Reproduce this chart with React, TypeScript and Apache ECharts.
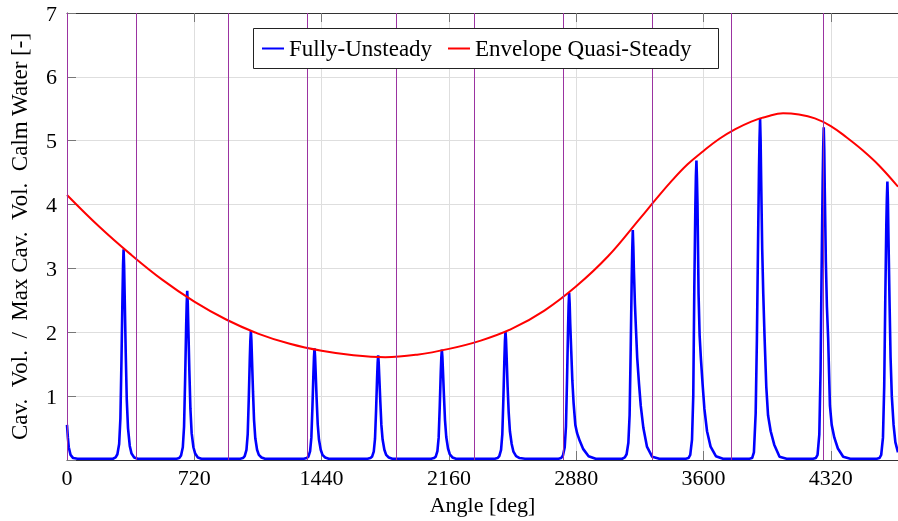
import React, { useEffect, useRef } from "react";
import * as echarts from "echarts";

// ---- Data ----
const xTicks = [0, 720, 1440, 2160, 2880, 3600, 4320];
const xMax = 4700;
const yMax = 7;

// Envelope Quasi-Steady (angle in deg, value)
const envelopeAngles = [0, 180, 360, 540, 720, 900, 1080, 1260, 1440, 1620, 1800, 1980, 2160, 2340, 2520, 2700, 2880, 3060, 3240, 3330, 3420, 3510, 3600, 3690, 3780, 3870, 3960, 4050, 4140, 4230, 4320, 4410, 4500, 4590, 4700];
const envelopeValues = [4.15, 3.66, 3.22, 2.82, 2.48, 2.2, 1.98, 1.82, 1.71, 1.64, 1.61, 1.65, 1.74, 1.87, 2.06, 2.34, 2.72, 3.19, 3.78, 4.08, 4.37, 4.63, 4.84, 5.03, 5.18, 5.3, 5.38, 5.43, 5.41, 5.35, 5.23, 5.05, 4.85, 4.62, 4.28];

// Fully-Unsteady: initial decay then 13 spikes
const startAngles = [0, 5, 10, 20, 35, 60];
const startValues = [0.55, 0.35, 0.2, 0.08, 0.03, 0.02];
const peakAngles = [320, 680, 1040, 1400, 1760, 2120, 2480, 2840, 3200, 3560, 3920, 4280, 4640];
const sampleOffsets = [-60, -45, -35, -25, -18, -12, -6, -3, 0, 3, 6, 12, 18, 25, 35, 45, 60, 80, 110, 150];
const peak1 = [0.02, 0.04, 0.09, 0.25, 0.65, 1.55, 2.6, 3.05, 3.3, 3.05, 2.6, 1.7, 0.95, 0.5, 0.22, 0.1, 0.04, 0.02, 0.02, 0.02];
const peak2 = [0.02, 0.03, 0.07, 0.2, 0.52, 1.25, 2.1, 2.45, 2.65, 2.45, 2.1, 1.4, 0.8, 0.42, 0.2, 0.1, 0.04, 0.02, 0.02, 0.02];
const peak3 = [0.02, 0.03, 0.06, 0.16, 0.4, 0.95, 1.6, 1.87, 2.02, 1.87, 1.6, 1.07, 0.62, 0.34, 0.16, 0.08, 0.04, 0.02, 0.02, 0.02];
const peak4 = [0.02, 0.03, 0.05, 0.14, 0.35, 0.82, 1.38, 1.62, 1.75, 1.62, 1.4, 0.95, 0.56, 0.32, 0.16, 0.08, 0.04, 0.02, 0.02, 0.02];
const peak5 = [0.02, 0.03, 0.05, 0.13, 0.33, 0.77, 1.3, 1.52, 1.64, 1.52, 1.32, 0.92, 0.55, 0.32, 0.16, 0.08, 0.04, 0.02, 0.02, 0.02];
const peak6 = [0.02, 0.03, 0.05, 0.14, 0.35, 0.82, 1.38, 1.6, 1.73, 1.62, 1.42, 1.0, 0.62, 0.36, 0.18, 0.09, 0.04, 0.02, 0.02, 0.02];
const peak7 = [0.02, 0.03, 0.06, 0.16, 0.4, 0.95, 1.6, 1.87, 2.01, 1.88, 1.65, 1.15, 0.75, 0.45, 0.25, 0.13, 0.06, 0.03, 0.02, 0.02];
const peak8 = [0.02, 0.03, 0.07, 0.2, 0.52, 1.25, 2.08, 2.42, 2.62, 2.45, 2.15, 1.7, 1.25, 0.9, 0.55, 0.42, 0.3, 0.17, 0.06, 0.02];
const peak9 = [0.02, 0.04, 0.09, 0.27, 0.7, 1.7, 2.85, 3.3, 3.6, 3.35, 3.0, 2.45, 2.05, 1.6, 1.2, 0.85, 0.5, 0.21, 0.05, 0.02];
const peak10 = [0.02, 0.03, 0.08, 0.32, 1.0, 2.7, 4.0, 4.45, 4.69, 4.4, 4.0, 2.6, 1.95, 1.6, 1.18, 0.8, 0.45, 0.21, 0.06, 0.02];
const peak11 = [0.02, 0.03, 0.12, 0.73, 1.9, 3.3, 4.6, 5.05, 5.34, 5.0, 4.4, 3.3, 2.6, 1.95, 1.15, 0.7, 0.45, 0.24, 0.05, 0.02];
const peak12 = [0.02, 0.03, 0.08, 0.4, 1.4, 3.0, 4.4, 4.9, 5.21, 4.85, 4.2, 3.1, 2.4, 1.9, 0.85, 0.55, 0.35, 0.18, 0.05, 0.02];
const peak13 = [0.02, 0.03, 0.08, 0.35, 1.15, 2.5, 3.7, 4.1, 4.36, 4.05, 3.5, 2.5, 1.6, 1.0, 0.55, 0.28, 0.12];
const peakValues = [peak1, peak2, peak3, peak4, peak5, peak6, peak7, peak8, peak9, peak10, peak11, peak12, peak13];

// Vertical purple marker lines (deg)
const markerAngles = [0, 394, 910, 1361, 1865, 2305, 2808, 3310, 3758, 4277];

const seriesNames = ["Fully-Unsteady", "Envelope Quasi-Steady"];
const yAxisTitle = "Cav.\u2002Vol.\u2002/\u2002Max Cav.\u2002Vol.\u2002Calm Water [-]";
const xAxisTitle = "Angle [deg]";

const FONT = "'Liberation Serif', 'Times New Roman', serif";

export default function App() {
  const ref = useRef<HTMLDivElement>(null);

  useEffect(() => {
    if (!ref.current) return;
    const chart = echarts.init(ref.current, null, { renderer: "svg" });

    const unsteady: [number, number][] = [];
    startAngles.forEach((a, i) => unsteady.push([a, startValues[i]]));
    peakAngles.forEach((p, k) => {
      peakValues[k].forEach((v, i) => unsteady.push([p + sampleOffsets[i], v]));
    });
    const envelope: [number, number][] = envelopeAngles.map((a, i) => [a, envelopeValues[i]]);

    const axisLine = { show: true, lineStyle: { color: "#333", width: 1 } };
    const tick = { show: true, inside: true, length: 9, lineStyle: { color: "#777", width: 1 } };
    const legendText = { fontFamily: FONT, fontSize: 23, color: "#000", lineHeight: 23 };

    const option: any = {
      animation: false,
      textStyle: { fontFamily: FONT },
      grid: { left: 67, right: 0, top: 13, bottom: 61, containLabel: false },
      xAxis: [
        {
          type: "value",
          min: 0,
          max: xMax,
          interval: 720,
          position: "bottom",
          axisLine,
          axisTick: tick,
          axisLabel: {
            show: true,
            fontFamily: FONT,
            fontSize: 22,
            color: "#000",
            margin: 6,
            showMaxLabel: false,
            formatter: (v: number) => (xTicks.includes(v) ? String(v) : ""),
          },
          splitLine: { show: true, lineStyle: { color: "#dedede", width: 1 } },
          name: xAxisTitle,
          nameLocation: "middle",
          nameGap: 33,
          nameTextStyle: { fontFamily: FONT, fontSize: 22, color: "#000" },
        },
        {
          type: "value",
          min: 0,
          max: xMax,
          interval: 720,
          position: "top",
          axisLine,
          axisTick: tick,
          axisLabel: { show: false },
          splitLine: { show: false },
        },
      ],
      yAxis: {
        type: "value",
        min: 0,
        max: yMax,
        interval: 1,
        axisLine,
        axisTick: tick,
        axisLabel: {
          fontFamily: FONT,
          fontSize: 22,
          color: "#000",
          margin: 10,
          formatter: (v: number) => (v === 0 ? "" : String(v)),
        },
        splitLine: { show: true, lineStyle: { color: "#dedede", width: 1 } },
        name: yAxisTitle,
        nameLocation: "middle",
        nameGap: 36,
        nameTextStyle: { fontFamily: FONT, fontSize: 23, color: "#000" },
      },
      legend: [
        {
          data: [seriesNames[0]],
          left: 262,
          top: 37,
          padding: 0,
          icon: "rect",
          itemWidth: 22,
          itemHeight: 2,
          z: 60,
          selectedMode: false,
          textStyle: legendText,
        },
        {
          data: [seriesNames[1]],
          left: 448,
          top: 37,
          padding: 0,
          icon: "rect",
          itemWidth: 22,
          itemHeight: 2,
          z: 60,
          selectedMode: false,
          textStyle: legendText,
        },
      ],
      graphic: [
        {
          type: "rect",
          z: 50,
          shape: { x: 253.5, y: 28.5, width: 465, height: 40 },
          style: { fill: "#fff", stroke: "#222", lineWidth: 1 },
          silent: true,
        },
      ],
      series: [
        {
          name: "markers",
          type: "line",
          data: [],
          z: 1,
          silent: true,
          markLine: {
            silent: true,
            symbol: ["none", "none"],
            label: { show: false },
            lineStyle: { color: "#9b33a1", width: 1, type: "solid" },
            emphasis: { disabled: true },
            data: markerAngles.map((a) => ({ xAxis: a })),
          },
        },
        {
          name: seriesNames[0],
          type: "line",
          data: unsteady,
          showSymbol: false,
          symbol: "none",
          smooth: false,
          z: 3,
          color: "#0000ff",
          lineStyle: { color: "#0000ff", width: 2.6 },
          itemStyle: { color: "#0000ff" },
        },
        {
          name: seriesNames[1],
          type: "line",
          data: envelope,
          showSymbol: false,
          symbol: "none",
          smooth: 0.4,
          z: 4,
          color: "#ff0000",
          lineStyle: { color: "#ff0000", width: 2 },
          itemStyle: { color: "#ff0000" },
        },
      ],
    };

    chart.setOption(option);
    return () => chart.dispose();
  }, []);

  return (
    <div
      ref={ref}
      style={{ position: "fixed", left: 0, top: 0, width: 898, height: 521 }}
    />
  );
}
